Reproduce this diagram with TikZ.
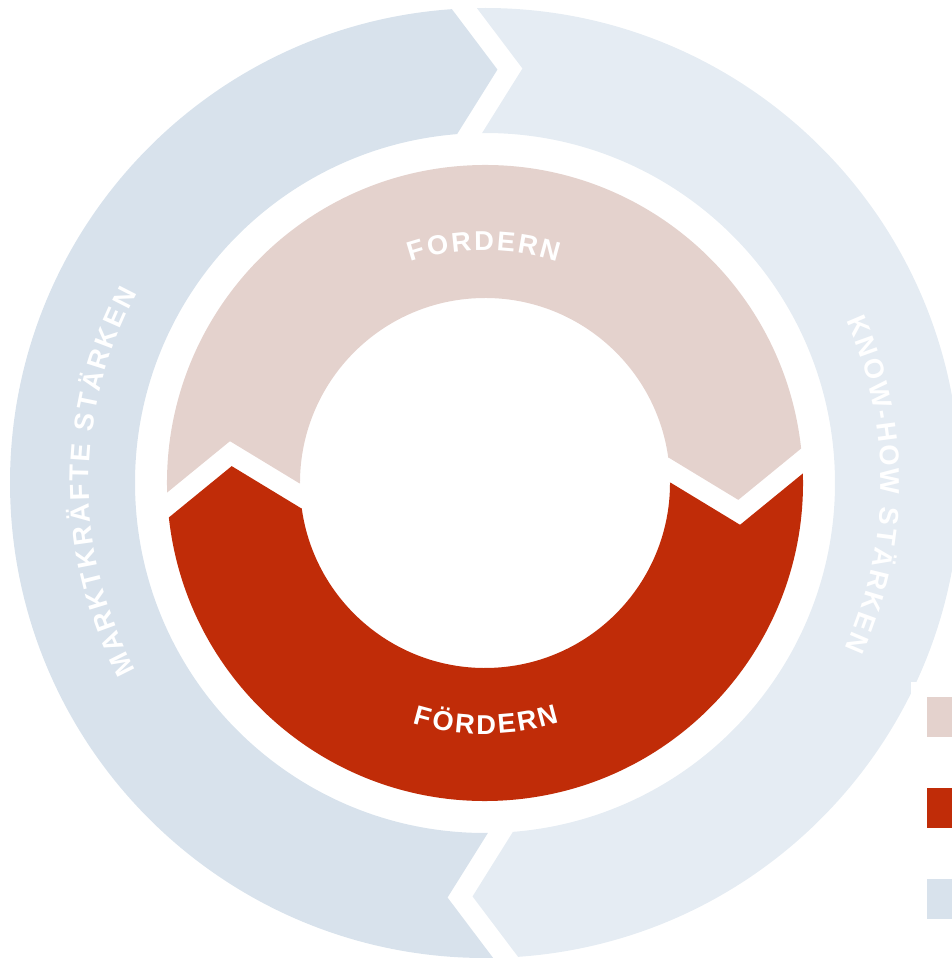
\documentclass[tikz,border=0pt]{standalone}
\usepackage{fontspec}
\newfontfamily\ringfont{Liberation Sans}
\usetikzlibrary{decorations.text}
\newcommand{\innerfont}{\ringfont\bfseries\fontsize{15.5}{17}\selectfont}
\newcommand{\outerfont}{\ringfont\bfseries\fontsize{15.5}{17}\selectfont}

\begin{document}
\begin{tikzpicture}[x=0.2mm,y=0.2mm]

\definecolor{bluedark}{RGB}{216,226,236};
\definecolor{bluelight}{RGB}{229,236,243};
\definecolor{rose}{RGB}{228,210,205};
\definecolor{rust}{RGB}{192,44,8};

\useasboundingbox (-485,-477) rectangle (466,483);

%%Outer ring
\def\Ri{350}; \def\Ro{475}; \def\Rm{412.5};
\def\g{12.5}; \def\d{43};

\begin{scope}[rotate=2.5]
\begin{scope}
\clip (-600,600)--(-\g,600)--(-\g,\Ro)--(-\g+\d,\Rm)--(-\g,\Ri)--(-\g,-\Ri)--(-\g-\d,-\Rm)--(-\g,-\Ro)--(-\g,-600)--(-600,-600)--cycle;
\fill[bluedark,even odd rule] (0,0) circle (\Ro) (0,0) circle (\Ri);
\end{scope}
\begin{scope}
\clip (600,600)--(\g,600)--(\g,\Ro)--(\g+\d,\Rm)--(\g,\Ri)--(\g,-\Ri)--(\g-\d,-\Rm)--(\g,-\Ro)--(\g,-600)--(600,-600)--cycle;
\fill[bluelight,even odd rule] (0,0) circle (\Ro) (0,0) circle (\Ri);
\end{scope}
\end{scope}

%%Inner ring
\def\ri{185}; \def\ro{318}; \def\rm{251.5};
\def\h{12.5}; \def\e{47};

\begin{scope}[rotate=4]
\begin{scope}
\clip (-400,400)--(400,400)--(400,\h)--(\ro,\h)--(\rm,\h-\e)--(\ri,\h)--(-\ri,\h)--(-\rm,\h+\e)--(-\ro,\h)--(-400,\h)--cycle;
\fill[rose,even odd rule] (0,0) circle (\ro) (0,0) circle (\ri);
\end{scope}
\begin{scope}
\clip (-400,-400)--(400,-400)--(400,-\h)--(\ro,-\h)--(\rm,-\h-\e)--(\ri,-\h)--(-\ri,-\h)--(-\rm,-\h+\e)--(-\ro,-\h)--(-400,-\h)--cycle;
\fill[rust,even odd rule] (0,0) circle (\ro) (0,0) circle (\ri);
\end{scope}
\end{scope}

%%Labels
{\innerfont
\path[decorate,decoration={text along path,text align=center,text={|\color{white}\kern1.35pt|FORDERN}}]
  (110.5:233) arc[start angle=110.5,end angle=70.5,radius=233];
\path[decorate,decoration={text along path,text align=center,text={|\color{white}\kern1.35pt|FÖRDERN}}]
  (250:251) arc[start angle=250,end angle=290,radius=251];
}
{\outerfont
\path[decorate,decoration={text along path,text align=center,text={|\color{white}\kern1.4pt|MARKTKRÄFTE STÄRKEN}}]
  (240:396) arc[start angle=240,end angle=120,radius=396];
\path[decorate,decoration={text along path,text align=center,text={|\color{white}\kern1.4pt|KNOW-HOW STÄRKEN}}]
  (40:396) arc[start angle=40,end angle=-40,radius=396];
}

%%Legend
\fill[white] (426,-199) rectangle (470,-480);
\fill[rose] (442,-214) rectangle (470,-254);
\fill[rust] (442,-305) rectangle (470,-345);
\fill[bluedark] (442,-396) rectangle (470,-436);

\end{tikzpicture}
\end{document}
